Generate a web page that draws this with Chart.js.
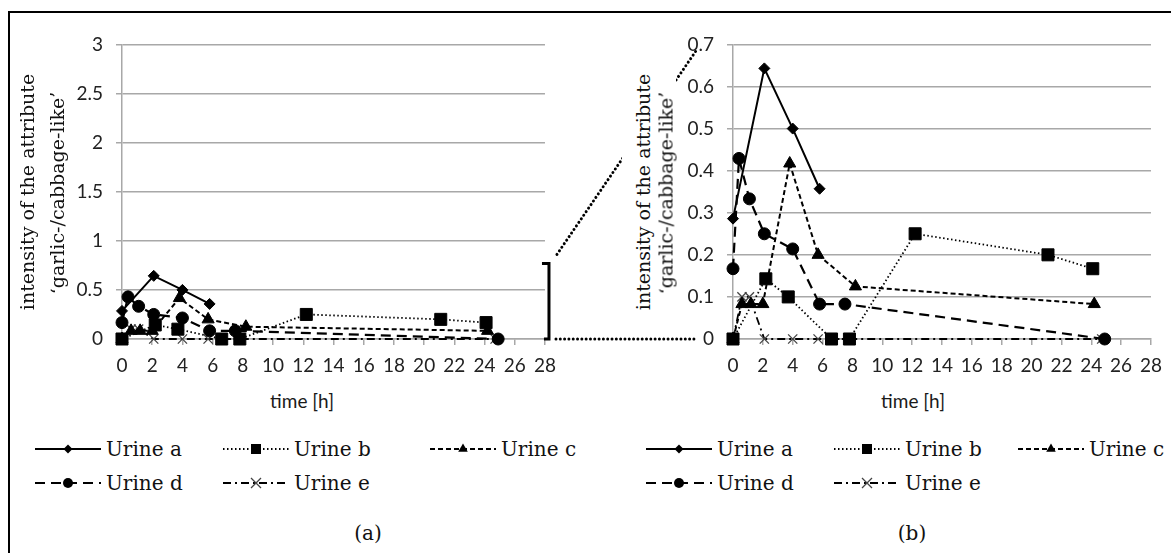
<!DOCTYPE html>
<html>
<head>
<meta charset="utf-8">
<script src="https://cdn.jsdelivr.net/npm/chart.js@4.4.1/dist/chart.umd.min.js"></script>
<style>
html, body { margin: 0; padding: 0; background: #fff; overflow: hidden; }
#fig { position: relative; width: 1171px; height: 553px; overflow: hidden; background: #fff; }
#frame { position: absolute; left: 8px; top: 11px; width: 1300px; height: 700px; border-top: 2px solid #000; border-left: 2px solid #000; }
canvas { position: absolute; }
.ytitle { position: absolute; font: 19px "DejaVu Serif"; line-height: 19px; white-space: nowrap; color: #111;
          transform: translate(-50%, -50%) rotate(-90deg); z-index: 4; }
.mask { position: absolute; background: #fff; z-index: 3; }
.xtitle { position: absolute; font: 19px Lato; color: #1a1a1a; white-space: nowrap; transform: translate(-50%, -50%); }
.lgtext { position: absolute; font: 20px "DejaVu Serif"; color: #111; white-space: nowrap; transform: translateY(-50%); }
.panel { position: absolute; font: 20px "DejaVu Serif"; color: #111; transform: translate(-50%, -50%); }
</style>
</head>
<body>
<div id="fig">
  <div id="frame"></div>
  <canvas id="chartA" width="505" height="360" style="left:60px; top:20px;"></canvas>
  <canvas id="chartB" width="500" height="360" style="left:671px; top:20px;"></canvas>
  <canvas id="deco" width="1171" height="553" style="left:0; top:0; z-index:2;"></canvas>
  <div class="mask" style="left:622px; top:62px; width:54px; height:258px;"></div>
</div>
<script>
// values (time in h, intensity)
const timeA = [0, 2.1, 4.0, 5.8];
const urineA = [0.286, 0.643, 0.5, 0.357];
const timeB = [0, 2.2, 3.7, 6.6, 7.8, 12.2, 21.1, 24.1];
const urineB = [0, 0.143, 0.1, 0, 0, 0.25, 0.2, 0.167];
const timeC = [0, 0.6, 1.2, 2.0, 3.8, 5.7, 8.2, 24.2];
const urineC = [0, 0.083, 0.083, 0.083, 0.417, 0.2, 0.125, 0.083];
const timeD = [0, 0.4, 1.1, 2.1, 4.0, 5.8, 7.5, 24.9];
const urineD = [0.167, 0.429, 0.333, 0.25, 0.214, 0.083, 0.083, 0];
const timeE = [0, 0.6, 1.1, 2.1, 4.0, 5.7, 24.7];
const urineE = [0, 0.1, 0.1, 0, 0, 0, 0];

const seriesNames = ['Urine a', 'Urine b', 'Urine c', 'Urine d', 'Urine e'];
const xTicks = [0, 2, 4, 6, 8, 10, 12, 14, 16, 18, 20, 22, 24, 26, 28];
const yTicksA = [0, 0.5, 1, 1.5, 2, 2.5, 3];
const yTicksB = [0, 0.1, 0.2, 0.3, 0.4, 0.5, 0.6, 0.7];
const yTitle = ['intensity of the attribute', '\u2018garlic-/cabbage-like\u2019'];
const xTitle = 'time [h]';
const zoomTop = 0.77;   // top of the bracket on panel (a)

const times = [timeA, timeB, timeC, timeD, timeE];
const values = [urineA, urineB, urineC, urineD, urineE];

const styles = [
  { pointStyle: 'rectRot', pointRadius: 5.5, borderDash: [], borderWidth: 2 },
  { pointStyle: 'rect', pointRadius: 8.5, borderDash: [1.5, 2.5], borderWidth: 1.8 },
  { pointStyle: 'triangle', pointRadius: 7, borderDash: [5, 3], borderWidth: 2 },
  { pointStyle: 'circle', pointRadius: 6, borderDash: [10, 6], borderWidth: 2.2 },
  { pointStyle: 'crossRot', pointRadius: 6.5, borderDash: [8, 4, 2, 4], borderWidth: 1.8 }
];

function makeDatasets() {
  return seriesNames.map((name, i) => ({
    label: name,
    data: times[i].map((t, j) => ({ x: t, y: values[i][j] })),
    showLine: true,
    borderColor: '#000',
    borderWidth: styles[i].borderWidth,
    borderDash: styles[i].borderDash,
    pointStyle: styles[i].pointStyle,
    pointRadius: styles[i].pointRadius,
    pointBackgroundColor: '#000',
    pointBorderColor: i == 4 ? '#444' : '#000',
    pointBorderWidth: i == 4 ? 1.3 : 1,
    tension: 0,
    clip: false
  }));
}

const gridGrey = '#a8a8a8';
const tickFont = { family: 'Lato', size: 19 };

function makeChart(id, yTicks, yMax, padRight) {
  return new Chart(document.getElementById(id), {
    type: 'scatter',
    data: { datasets: makeDatasets() },
    options: {
      responsive: false,
      animation: false,
      events: [],
      layout: { padding: { left: 0, top: 23, right: padRight, bottom: 0 } },
      plugins: { legend: { display: false }, tooltip: { enabled: false } },
      scales: {
        x: {
          type: 'linear', min: 0, max: 28,
          afterBuildTicks: s => { s.ticks = xTicks.map(v => ({ value: v })); },
          afterFit: s => { s.height = 41; },
          grid: { drawOnChartArea: false, drawTicks: true, tickLength: 6, color: gridGrey, lineWidth: 1.5 },
          border: { color: gridGrey, width: 1.5 },
          ticks: { font: tickFont, color: '#222', padding: 9, maxRotation: 0, autoSkip: false }
        },
        y: {
          min: 0, max: yMax,
          afterBuildTicks: s => { s.ticks = yTicks.map(v => ({ value: v })); },
          afterFit: s => { s.width = 62; },
          grid: { color: gridGrey, lineWidth: 1.5, tickLength: 6 },
          border: { color: gridGrey, width: 1.5 },
          ticks: { font: tickFont, color: '#222', padding: 13, callback: v => String(+v.toFixed(2)) }
        }
      }
    }
  });
}

const chartA = makeChart('chartA', yTicksA, 3, 15);
const chartB = makeChart('chartB', yTicksB, 0.7, 11);

const fig = document.getElementById('fig');
function addDiv(cls, text, x, y) {
  const d = document.createElement('div');
  d.className = cls;
  d.textContent = text;
  d.style.left = x + 'px';
  d.style.top = y + 'px';
  fig.appendChild(d);
  return d;
}

// axis titles and panel labels
function addTitles(chart, offX, offY, line1X, line2X) {
  const area = chart.chartArea;
  const midY = offY + (area.top + area.bottom) / 2;
  addDiv('ytitle', yTitle[0], line1X, midY);
  addDiv('ytitle', yTitle[1], line2X, midY + 1);
  addDiv('xtitle', xTitle, offX + area.left + 180, 400);
}
addTitles(chartA, 60, 20, 27, 57);
addTitles(chartB, 671, 20, 643, 665.5);
addDiv('panel', '(a)', 368, 533);
addDiv('panel', '(b)', 912, 533);

// legends
function drawMarker(ctx, style, x, y, r) {
  ctx.beginPath();
  if (style == 'rectRot') {
    ctx.moveTo(x, y - r); ctx.lineTo(x + r, y); ctx.lineTo(x, y + r); ctx.lineTo(x - r, y);
    ctx.closePath(); ctx.fill();
  } else if (style == 'rect') {
    ctx.rect(x - r, y - r, 2 * r, 2 * r); ctx.fill();
  } else if (style == 'triangle') {
    ctx.moveTo(x, y - r); ctx.lineTo(x + r * 0.87, y + r * 0.5); ctx.lineTo(x - r * 0.87, y + r * 0.5);
    ctx.closePath(); ctx.fill();
  } else if (style == 'circle') {
    ctx.arc(x, y, r, 0, Math.PI * 2); ctx.fill();
  } else {
    ctx.strokeStyle = '#444'; ctx.lineWidth = 1.3; ctx.setLineDash([]);
    ctx.moveTo(x - r, y - r); ctx.lineTo(x + r, y + r);
    ctx.moveTo(x + r, y - r); ctx.lineTo(x - r, y + r);
    ctx.stroke();
  }
}
const markerSizes = [4.5, 5, 5.5, 5, 5];

function addLegend(positions) {
  positions.forEach((p, i) => {
    const c = document.createElement('canvas');
    c.width = 66; c.height = 20;
    c.style.left = p[0] + 'px';
    c.style.top = (p[1] - 10) + 'px';
    fig.appendChild(c);
    const ctx = c.getContext('2d');
    ctx.strokeStyle = '#000';
    ctx.fillStyle = '#000';
    ctx.lineWidth = styles[i].borderWidth;
    ctx.setLineDash(styles[i].borderDash);
    ctx.beginPath();
    ctx.moveTo(0, 10); ctx.lineTo(66, 10);
    ctx.stroke();
    drawMarker(ctx, styles[i].pointStyle, 33, 10, markerSizes[i]);
    addDiv('lgtext', seriesNames[i], p[0] + 71, p[1]);
  });
}
addLegend([[35, 449], [223, 449], [430, 449], [35, 483], [223, 483]]);
addLegend([[646, 449], [834, 449], [1018, 449], [646, 483], [834, 483]]);

// bracket and dotted zoom lines between the panels
const deco = document.getElementById('deco').getContext('2d');
const aTop = 20 + chartA.scales.y.getPixelForValue(zoomTop);
const aBot = 20 + chartA.scales.y.getPixelForValue(0);
const bx = 60 + chartA.chartArea.right + 4;
const bLeft = 671 + chartB.chartArea.left;
const bTop = 20 + chartB.scales.y.getPixelForValue(0.7);

deco.strokeStyle = '#000';
deco.lineWidth = 3;
deco.beginPath();
deco.moveTo(bx - 7, aTop); deco.lineTo(bx, aTop); deco.lineTo(bx, aBot); deco.lineTo(bx - 5, aBot);
deco.stroke();

deco.lineCap = 'round';
deco.setLineDash([0.01, 4.3]);
deco.beginPath();
deco.moveTo(bx + 7, aBot); deco.lineTo(bLeft - 38, aBot);
deco.moveTo(bx + 8, aTop - 9); deco.lineTo(bLeft - 36, bTop + 5);
deco.stroke();
</script>
</body>
</html>
